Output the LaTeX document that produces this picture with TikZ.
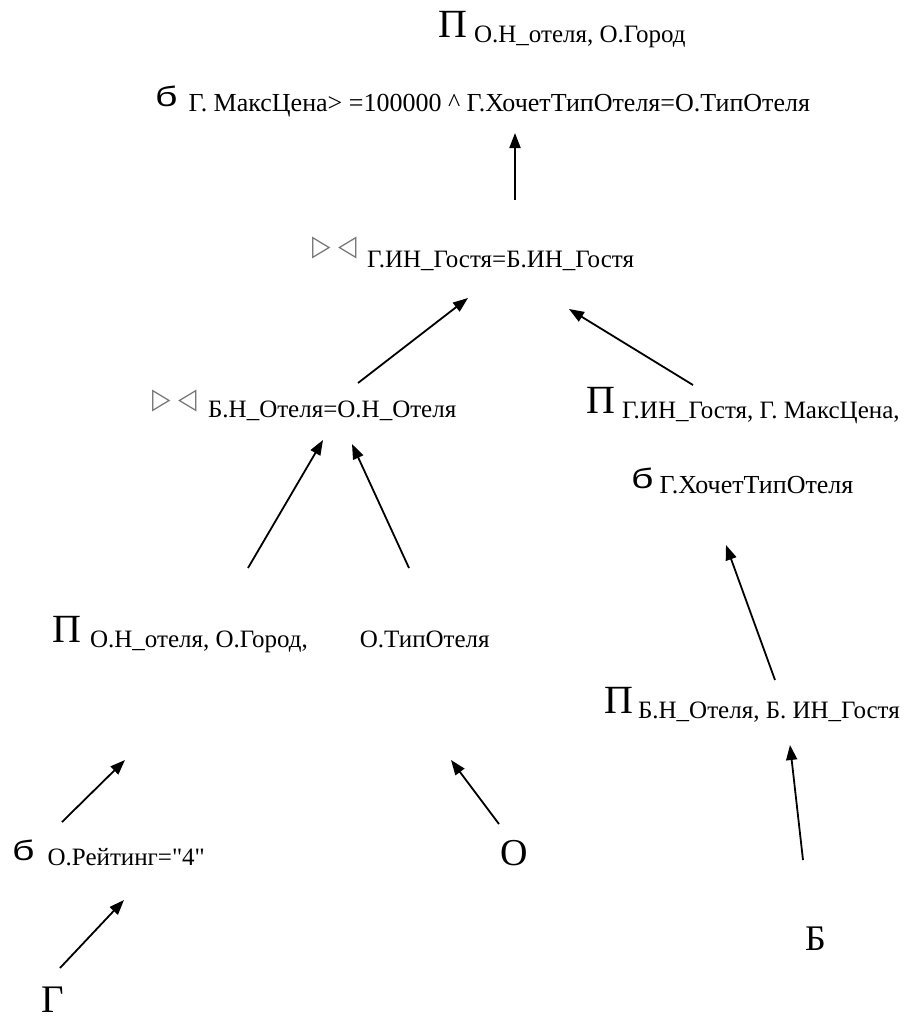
\documentclass[tikz,border=0pt]{standalone}
\usepackage{graphicx}
\usepackage{fontspec}
\setmainfont{Liberation Serif}
% same serif without TeX ligatures, so that " stays a straight quote
\newfontfamily\plainserif{Liberation Serif}
\newfontfamily\selfont{Liberation Sans}
\newfontfamily\symfont{DejaVu Sans}
\usetikzlibrary{arrows.meta}

% operator glyphs of the relational algebra tree
\newcommand\projsym{{\fontsize{40}{40}\selectfont П}}
\newcommand\selsym{{\selfont\fontsize{28}{28}\selectfont\scalebox{1.4}[1]{б}}}
\newcommand\joinsym{{\symfont\fontsize{24}{24}\selectfont\color{black!55}\scalebox{1}[1.2]{▷}\hspace{8pt}\scalebox{1}[1.2]{◁}}}
\newcommand\subtext[2][25]{\raisebox{-5pt}{\fontsize{#1}{#1}\selectfont #2}}
\newcommand\relname[2][38]{{\fontsize{#1}{#1}\selectfont #2}}

\begin{document}
\begin{tikzpicture}[x=1pt,y=-1pt,
  lbl/.style={inner sep=0pt, anchor=base west},
  arr/.style={-{Triangle[length=15pt,width=11pt]}, line width=1.8pt}]
\useasboundingbox (0,0) rectangle (914,1021);

% operator labels
\node[lbl] (projTop) at (438,37) {\projsym\hspace{7pt}\subtext{О.Н\_отеля, О.Город}};
\node[lbl] (selTop) at (155,106) {\selsym\hspace{11pt}\subtext[26]{Г. МаксЦена> =100000 \textasciicircum{} Г.ХочетТипОтеля=О.ТипОтеля}};
\node[lbl] (joinTop) at (312,267) {\raisebox{12pt}{\joinsym}\hspace{10pt}\subtext[25]{\raisebox{5pt}{Г.ИН\_Гостя=Б.ИН\_Гостя}}};
\node[lbl] (joinLow) at (152,417) {\raisebox{9pt}{\joinsym}\hspace{11pt}\subtext[25]{\raisebox{5pt}{Б.Н\_Отеля=О.Н\_Отеля}}};
\node[lbl] (projGuest) at (586,413) {\projsym\hspace{7pt}\subtext{Г.ИН\_Гостя, Г. МаксЦена,}};
\node[lbl] (selGuest) at (631,488) {\selsym\hspace{6pt}\subtext[26]{Г.ХочетТипОтеля}};
\node[lbl] (projHotel) at (52,642) {\projsym\hspace{9pt}\subtext{О.Н\_отеля, О.Город,\hspace{52pt}О.ТипОтеля}};
\node[lbl] (projBook) at (604,713) {\projsym\hspace{5pt}\subtext{Б.Н\_Отеля, Б. ИН\_Гостя}};
\node[lbl] (selHotel) at (12,860) {\selsym\hspace{13pt}\subtext{\plainserif О.Рейтинг="4"}};

% base relations
\node[lbl] (relO) at (500,865) {\relname{О}};
\node[lbl] (relB) at (805,950) {\relname[36]{Б}};
\node[lbl] (relG) at (41,1012) {\relname[39]{Г}};

% arrow end points
\coordinate (a1s) at (515,200); \coordinate (a1e) at (515,133);
\coordinate (a2s) at (358,383); \coordinate (a2e) at (468,298);
\coordinate (a3s) at (693,385); \coordinate (a3e) at (569,309);
\coordinate (a4s) at (248,568); \coordinate (a4e) at (323,440);
\coordinate (a5s) at (409,568); \coordinate (a5e) at (352,444);
\coordinate (a6s) at (775,680); \coordinate (a6e) at (726,545);
\coordinate (a7s) at (62,822);  \coordinate (a7e) at (125,760);
\coordinate (a8s) at (499,824); \coordinate (a8e) at (451,760);
\coordinate (a9s) at (803,860); \coordinate (a9e) at (790,745);
\coordinate (a10s) at (60,968); \coordinate (a10e) at (124,900);

\foreach \i in {1,...,10} \draw[arr] (a\i s) -- (a\i e);
\end{tikzpicture}
\end{document}
